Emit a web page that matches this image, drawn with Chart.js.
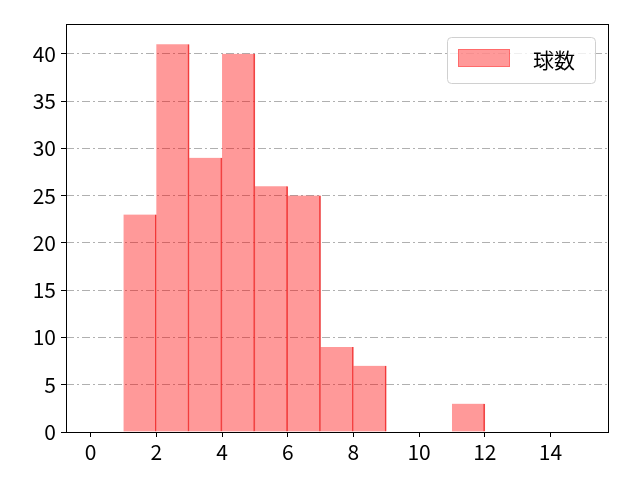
<!DOCTYPE html>
<html>
<head>
<meta charset="utf-8">
<script src="https://cdn.jsdelivr.net/npm/chart.js@4/dist/chart.umd.min.js"></script>
<style>
  html, body { margin: 0; padding: 0; background: #fff; }
  #wrap { width: 640px; height: 480px; }
</style>
</head>
<body>
<div id="wrap"><canvas id="hist"></canvas></div>
<script>
// histogram bins (left edge) and counts
const binStarts = [1, 2, 3, 4, 5, 6, 7, 8, 9, 10, 11];
const counts = [23, 41, 29, 40, 26, 25, 9, 7, 0, 0, 3];
const seriesLabel = "球数";
const xTicks = [0, 2, 4, 6, 8, 10, 12, 14];
const yTicks = [0, 5, 10, 15, 20, 25, 30, 35, 40];

const font = "'Noto Sans CJK JP', 'Noto Sans', sans-serif";
const fill = "rgba(255, 0, 0, 0.4)";
const edge = "rgba(235, 45, 45, 0.85)";

// frame round the plot + legend box in the top right corner
const framePlugin = {
  id: "frame",
  afterDraw(chart) {
    const { ctx, chartArea: a } = chart;
    ctx.save();
    ctx.strokeStyle = "#000";
    ctx.lineWidth = 1;
    ctx.strokeRect(a.left + 0.5, a.top + 0.5, a.right - a.left, a.bottom - a.top);

    // legend
    const w = 148, h = 46;
    const x = a.right - 13 - w, y = a.top + 13;
    ctx.beginPath();
    ctx.roundRect(x + 0.5, y + 0.5, w, h, 4);
    ctx.fillStyle = "rgba(255,255,255,0.8)";
    ctx.fill();
    ctx.strokeStyle = "#d0d0d0";
    ctx.stroke();
    ctx.fillStyle = fill;
    ctx.fillRect(x + 11, y + 12, 52, 18);
    ctx.strokeStyle = "rgba(255, 0, 0, 0.3)";
    ctx.strokeRect(x + 11.5, y + 12.5, 51, 17);
    ctx.fillStyle = "#000";
    ctx.font = "21px " + font;
    ctx.textBaseline = "middle";
    ctx.fillText(seriesLabel, x + 86, y + 23);
    ctx.restore();
  }
};

new Chart(document.getElementById("hist"), {
  type: "bar",
  data: {
    datasets: [
      {
        label: seriesLabel,
        data: binStarts.map((b, i) => ({ x: b + 0.5, y: counts[i] })),
        backgroundColor: fill,
        borderColor: edge,
        borderWidth: { top: 0, right: 1, bottom: 0, left: 0 },
        borderSkipped: false,
        barPercentage: 1,
        categoryPercentage: 1,
      },
    ],
  },
  options: {
    responsive: true,
    maintainAspectRatio: false,
    animation: false,
    layout: { padding: { top: 24, right: 32, left: 0, bottom: 0 } },
    plugins: { legend: { display: false }, tooltip: { enabled: false } },
    scales: {
      x: {
        type: "linear",
        offset: false,
        min: -0.75,
        max: 15.75,
        afterFit: (s) => { s.height = 48; },
        afterBuildTicks: (s) => { s.ticks = xTicks.map((v) => ({ value: v })); },
        grid: { offset: false, drawOnChartArea: false, tickLength: 5, tickColor: "#000" },
        border: { display: false },
        ticks: { color: "#000", font: { family: font, size: 21 }, padding: 2, maxRotation: 0 },
      },
      y: {
        min: 0,
        max: 43.15,
        z: 1,
        afterFit: (s) => { s.width = 66; },
        afterBuildTicks: (s) => { s.ticks = yTicks.map((v) => ({ value: v })); },
        grid: {
          color: "#b0b0b0",
          tickLength: 5,
          tickColor: "#000",
          tickBorderDash: [],
        },
        border: { display: false, dash: [8, 3, 2, 3] },
        ticks: { color: "#000", font: { family: font, size: 21 }, padding: 5 },
      },
    },
  },
  plugins: [framePlugin],
});
</script>
</body>
</html>
